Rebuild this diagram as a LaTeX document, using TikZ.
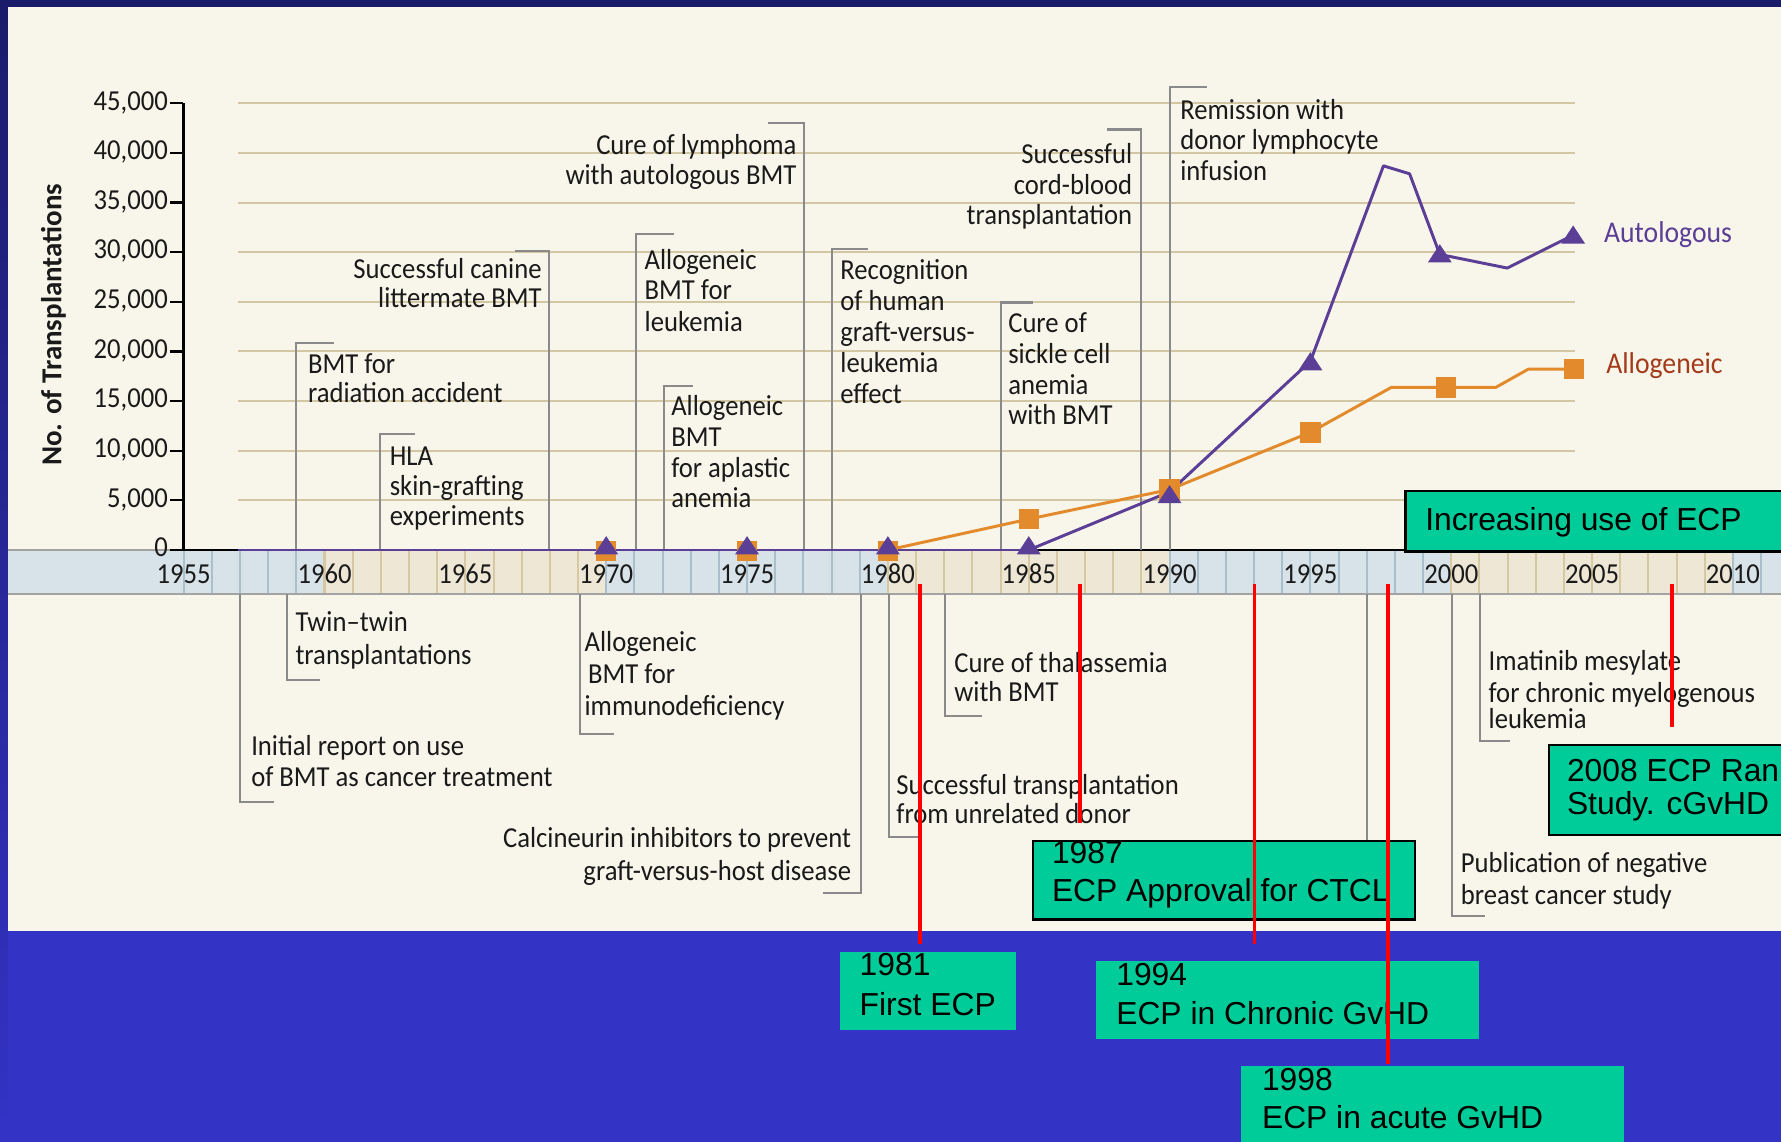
\documentclass[tikz,border=0pt]{standalone}
\usepackage{fontspec}
\newfontfamily\annf[FakeStretch=0.92]{Carlito}
\newfontfamily\ttlf{Carlito}
\newfontfamily\ecpf{Liberation Sans}
\definecolor{navy}{HTML}{1B1B6B}
\definecolor{bgblue}{HTML}{3333C6}
\definecolor{cream}{HTML}{F8F6EA}
\definecolor{gridc}{HTML}{D2C6A3}
\definecolor{bandb}{HTML}{D7E3E9}
\definecolor{bandbl}{HTML}{A9BFCB}
\definecolor{bandt}{HTML}{EEE7D6}
\definecolor{bandtl}{HTML}{D6C8A2}
\definecolor{conn}{HTML}{8A8A8A}
\definecolor{bordg}{HTML}{A3A3A3}
\definecolor{purp}{HTML}{5B3E96}
\definecolor{orng}{HTML}{E38B2C}
\definecolor{allo}{HTML}{A33B1B}
\definecolor{ecpg}{HTML}{00CC99}
\definecolor{txt}{HTML}{1A1A1A}
\newcommand\sqm[2]{\fill[orng] ({#1-9},{#2-9}) rectangle ({#1+9},{#2+9});}
\newcommand\trm[2]{\fill[purp] (#1,{#2-10}) -- ({#1+10.5},{#2+6}) -- ({#1-10.5},{#2+6}) -- cycle;}
\newcommand\cnup[3]{\draw[connl] (#1,484.2) -- (#1,#2) -- (#3,#2);}
\newcommand\cndn[3]{\draw[connl] (#1,523) -- (#1,#2) -- (#3,#2);}
\newcommand\aline[4]{\node[ann,anchor=base #1] (#2) at (#3) {#4};}
\begin{document}
\begin{tikzpicture}[x=1pt,y=-1pt,
  ann/.style={font=\annf\fontsize{25.5}{27}\selectfont,inner sep=0pt,text=txt},
  connl/.style={draw=conn,line width=1.8pt},
  gridl/.style={draw=gridc,line width=1.8pt},
  ecpbox/.style={draw=black,line width=2pt,fill=ecpg,inner sep=0pt,anchor=north west},
  ecpplain/.style={fill=ecpg,inner sep=0pt,anchor=north west},
  ecptxt/.style={font=\ecpf\fontsize{28}{30}\selectfont,inner sep=0pt,text=black,anchor=base west},
  redl/.style={draw=red,line width=2.9pt}]
\useasboundingbox (0,0) rectangle (1568,1005);
\clip (0,0) rectangle (1568,1005);
% background
\fill[bgblue] (0,0) rectangle (1568,1005);
\fill[navy] (0,0) rectangle (1568,6);
\shade[top color=navy,bottom color=bgblue] (0,0) rectangle (7,1005);
\fill[cream] (7,6) rectangle (1568,820);
% gridlines
\foreach \k in {1,...,9}{
  \draw[gridl] (209.6,{484.2-\k*43.7}) -- (1387,{484.2-\k*43.7});
}
% band
\fill[bandb] (7,485) rectangle (1568,522);
\foreach \a in {5,25,45}{
  \fill[bandt] ({161.7+\a*24.8},485) rectangle ({161.7+(\a+10)*24.8},522);
}
\foreach \yr in {0,...,4,15,16,...,24,35,36,...,44,55,56}{
  \draw[draw=bandbl,line width=1.8pt] ({161.7+\yr*24.8},485) -- ({161.7+\yr*24.8},522);
}
\foreach \yr in {5,...,14,25,26,...,34,45,46,...,54}{
  \draw[draw=bandtl,line width=1.8pt] ({161.7+\yr*24.8},485) -- ({161.7+\yr*24.8},522);
}
\draw[draw=bordg,line width=2.3pt] (7,523) -- (1568,523);
\draw[draw=bordg,line width=2.3pt] (7,484.2) -- (161.4,484.2);
\draw[draw=bordg,line width=2.3pt] (1387,484.2) -- (1568,484.2);
\draw[draw=black,line width=2.5pt] (161.4,484.2) -- (1387,484.2);
\foreach \k/\yr in {0/1955,5/1960,10/1965,15/1970,20/1975,25/1980,30/1985,35/1990,40/1995,45/2000,50/2005,55/2010}{
  \node[ann,anchor=base] (yl\yr) at ({161.7+\k*24.8},513.5) {\yr};
}
% y axis
\draw[draw=black,line width=2.3pt] (161.4,90.9) -- (161.4,485.3);
\foreach \k/\lab in {0/0,1/{5,000},2/{10,000},3/{15,000},4/{20,000},5/{25,000},6/{30,000},7/{35,000},8/{40,000},9/{45,000}}{
  \draw[draw=black,line width=2pt] (150,{484.2-\k*43.7}) -- (161.4,{484.2-\k*43.7});
  \node[ann,anchor=base east] (tl\k) at (148,{484.2-\k*43.7+6}) {\lab};
}
\node[font=\ttlf\bfseries\fontsize{25.5}{27}\selectfont,text=txt,rotate=90,inner sep=0pt] (ytitle) at (47,286) {No. of Transplantations};
% connectors above band
\cnup{483.6}{220.7}{453}
\cnup{260.5}{302}{294}
\cnup{334.6}{382.4}{365}
\cnup{708}{108}{675.8}
\cnup{559.8}{206.3}{593}
\cnup{584.6}{340}{610.5}
\cnup{732.4}{219.6}{763.8}
\cnup{881.3}{266.3}{909.8}
\cnup{1004.3}{114}{975}
\cnup{1029.7}{77}{1063}
% connectors below band
\cndn{252.7}{598.4}{281.5}
\cndn{211}{706}{241.6}
\cndn{510.5}{646}{540.8}
\cndn{758}{786}{725}
\cndn{782.4}{736.8}{812}
\cndn{832}{630.6}{864.5}
\cndn{1278}{806.6}{1307.8}
\cndn{1302.6}{652.6}{1329.8}
\draw[connl] (1203.2,523) -- (1203.2,740);
% annotation texts above
\aline{east}{a1a}{477,245.5}{Successful canine}
\aline{east}{a1b}{477,271}{littermate BMT}
\aline{west}{a2a}{271,328.7}{BMT for}
\aline{west}{a2b}{271,354.5}{radiation accident}
\aline{west}{a3a}{343,409.4}{HLA}
\aline{west}{a3b}{343,436}{skin-grafting}
\aline{west}{a3c}{343,462.5}{experiments}
\aline{east}{a4a}{701.4,136}{Cure of lymphoma}
\aline{east}{a4b}{701.4,162.6}{with autologous BMT}
\aline{west}{a5a}{567.4,237}{Allogeneic}
\aline{west}{a5b}{567.4,264}{BMT for}
\aline{west}{a5c}{567.4,292}{leukemia}
\aline{west}{a6a}{590.8,366}{Allogeneic}
\aline{west}{a6b}{590.8,393}{BMT}
\aline{west}{a6c}{590.8,420}{for aplastic}
\aline{west}{a6d}{590.8,447}{anemia}
\aline{west}{a7a}{739.7,246}{Recognition}
\aline{west}{a7b}{739.7,273.5}{of human}
\aline{west}{a7c}{739.7,301}{graft-versus-}
\aline{west}{a7d}{739.7,328}{leukemia}
\aline{west}{a7e}{739.7,355.5}{effect}
\aline{west}{a8a}{887.5,292.5}{Cure of}
\aline{west}{a8b}{887.5,320}{sickle cell}
\aline{west}{a8c}{887.5,347}{anemia}
\aline{west}{a8d}{887.5,374}{with BMT}
\aline{east}{a9a}{997,143.5}{Successful}
\aline{east}{a9b}{997,171}{cord-blood}
\aline{east}{a9c}{997,198}{transplantation}
\aline{west}{a10a}{1039,105}{Remission with}
\aline{west}{a10b}{1039,131.5}{donor lymphocyte}
\aline{west}{a10c}{1039,158.5}{infusion}
% annotation texts below
\aline{west}{b1a}{260,556}{Twin–twin}
\aline{west}{b1b}{260,585}{transplantations}
\aline{west}{b2a}{221,665.5}{Initial report on use}
\aline{west}{b2b}{221,692}{of BMT as cancer treatment}
\aline{west}{b3a}{514.5,574}{Allogeneic}
\aline{west}{b3b}{517.5,601.5}{BMT for}
\aline{west}{b3c}{514.5,630}{immunodeficiency}
\aline{east}{b4a}{749.5,746}{Calcineurin inhibitors to prevent}
\aline{east}{b4b}{749.5,775}{graft-versus-host disease}
\aline{west}{b5a}{789,699.5}{Successful transplantation}
\aline{west}{b5b}{789,725}{from unrelated donor}
\aline{west}{b6a}{840,592}{Cure of thalassemia}
\aline{west}{b6b}{840,618}{with BMT}
\aline{west}{b7a}{1286,768}{Publication of negative}
\aline{west}{b7b}{1286,796.5}{breast cancer study}
\aline{west}{b8a}{1310.4,590}{Imatinib mesylate}
\aline{west}{b8b}{1310.4,618.5}{for chronic myelogenous}
\aline{west}{b8c}{1310.4,641.5}{leukemia}
% data series
\draw[draw=orng,line width=2.6pt,line join=round] (781.7,484.2) -- (905.7,457) -- (1029.7,431) -- (1153.7,380.6) -- (1225,341) -- (1317,341) -- (1345.5,325) -- (1385.6,325);
\draw[draw=purp,line width=2.6pt] (209.6,484.2) -- (905.7,484.2);
\draw[draw=purp,line width=2.6pt,line join=round] (905.7,484.2) -- (1029.7,433) -- (1153.7,318) -- (1218,146) -- (1241,153) -- (1267.6,224) -- (1327,236) -- (1385,207);
\sqm{533.7}{485}\trm{533.7}{482}
\sqm{657.7}{485}\trm{657.7}{482}
\sqm{781.7}{485}\trm{781.7}{482}
\sqm{905.7}{457}\trm{905.7}{482}
\sqm{1029.7}{431}\trm{1029.7}{437}
\sqm{1153.7}{380.6}\trm{1153.7}{320}
\sqm{1273}{341}\trm{1267.6}{225}
\sqm{1385.6}{325}\trm{1385}{208.5}
\node[ann,anchor=west,text=purp,font=\annf\fontsize{26.5}{28}\selectfont] (autol) at (1412,207) {Autologous};
\node[ann,anchor=west,text=allo,font=\annf\fontsize{26.5}{28}\selectfont] (allol) at (1414,322) {Allogeneic};
% ECP boxes
\node[ecpbox,minimum width=340pt,minimum height=53.6pt] (g1) at (1236.5,431) {};
\node[ecptxt] (g1t) at (1254.6,467) {Increasing use of ECP};
\node[ecpbox,minimum width=215pt,minimum height=79.3pt] (g2) at (1362.7,654.7) {};
\node[ecptxt] (g2a) at (1379.4,688) {2008 ECP Ran};
\node[ecptxt] (g2b) at (1379.4,717.5) {Study. cGvHD};
\node[ecpbox,minimum width=336.6pt,minimum height=69.3pt] (g3) at (908.4,739.2) {};
\node[ecptxt] (g3a) at (926,760) {1987};
\node[ecptxt] (g3b) at (926,793.5) {ECP Approval for CTCL};
\node[ecpplain,minimum width=154.7pt,minimum height=69pt] (g4) at (739.7,838) {};
\node[ecptxt] (g4a) at (756.7,858.4) {1981};
\node[ecptxt] (g4b) at (756.7,893.6) {First ECP};
\node[ecpplain,minimum width=337pt,minimum height=68.5pt] (g5) at (965,846) {};
\node[ecptxt] (g5a) at (982.6,867.2) {1994};
\node[ecptxt] (g5b) at (982.6,901.6) {ECP in Chronic GvHD};
\node[ecpplain,minimum width=337.1pt,minimum height=80pt] (g6) at (1092.7,938.6) {};
\node[ecptxt] (g6a) at (1110.9,959.7) {1998};
\node[ecptxt] (g6b) at (1110.9,993.5) {ECP in acute GvHD};
% red ECP markers
\coordinate (r1a) at (810,514);   \coordinate (r1b) at (810,831);
\coordinate (r2a) at (950.7,514); \coordinate (r2b) at (950.7,724.5);
\coordinate (r3a) at (1104.7,514);\coordinate (r3b) at (1104.7,831);
\coordinate (r4a) at (1222,514);  \coordinate (r4b) at (1222,937);
\coordinate (r5a) at (1472,514);  \coordinate (r5b) at (1472,640);
\draw[redl] (r1a) -- (r1b);
\draw[redl] (r2a) -- (r2b);
\draw[redl] (r3a) -- (r3b);
\draw[redl] (r4a) -- (r4b);
\draw[redl] (r5a) -- (r5b);
\end{tikzpicture}
\end{document}
